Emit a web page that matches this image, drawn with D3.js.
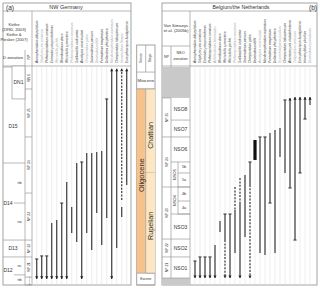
<!DOCTYPE html>
<html lang="en">
<head>
<meta charset="UTF-8">
<title>Dinocyst ranges</title>
<script src="https://cdn.jsdelivr.net/npm/d3@7"></script>
<style>
    body { margin: 0; background: #fff; }
    svg { display: block; font-family: "Liberation Sans", Arial, sans-serif; }
</style>
</head>
<body>
<svg id="chart" width="320" height="289"></svg>
<script>
// ages are in Ma

// (a) NW Germany
const leftTaxa = [
    "Areosphaeridium diktyoplokum", "Glaphyrocysta semitecta", "Phthanoperidinium comatum",
    "Enneadocysta pectiniformis", "Wetzeliella gochtii", "Rhombodinium draco",
    "Wetzeliella symmetrica", "Phthanoperidinium amoenum", "Svalbardella cooksoniae",
    "Areoligera semicirculata", "Chiropteridium galea", "Saturnodinium pansum",
    "Distatodinium biffii", "Pentadinium imaginatum", "Deflandrea phosphoritica",
    "Membranophoridium aspinatum", "Chiropteridium lobospinosum", "Homotryblium floripes",
    "Ectosphaeropsis burdigalensis"
]
const leftShared = [1, 0, 1, 1, 0, 1, 1, 0, 1, 1, 0, 1, 0, 1, 1, 0, 1, 0, 1]
// [column, top, base, occurrence, top end, base end]
const leftRanges = [
    [0, 33.06, 34.24, 'common', 'LO', 'down'],
    [1, 32.88, 34.24, 'common', 'LO', 'down'],
    [2, 32.88, 34.24, 'common', 'LO', 'down'],
    [3, 30.93, 34.24, 'common', '', 'down'],
    [4, 30.75, 34.24, 'common', '', 'down'],
    [5, 29.75, 34.24, 'common', 'LO', 'down'],
    [6, 28.50, 34.24, 'common', '', 'down'],
    [7, 29.98, 31.52, 'common', '', ''],
    [8, 27.38, 32.06, 'common', '', ''],
    [9, 27.32, 34.24, 'common', 'LO', 'down'],
    [10, 26.79, 31.52, 'common', '', ''],
    [11, 26.79, 32.53, 'common', '', ''],
    [12, 26.73, 30.34, 'common', '', ''],
    [13, 26.67, 32.23, 'common', '', ''],
    [14, 23.59, 30.63, 'common', 'LO', ''],
    [15, 21.8, 34.24, 'common', 'up', 'down'],
    [16, 21.8, 32.41, 'common', 'up', ''],
    [17, 21.8, 29.57, 'sporadic', 'up', ''],
    [17, 29.98, 30.58, 'common', '', ''],
    [18, 21.8, 28.68, 'common', 'up', '']
]
// [name, top, base]
const leftDZones = [['D15', 21.7, 27.38], ['D14', 27.38, 31.94], ['D13', 31.94, 32.94], ['D12', 32.94, 34.6]]
const leftDSub = [['nb', 27.38, 29.75], ['na', 29.75, 31.94], ['nc', 32.94, 34.0], ['nb', 34.0, 34.6]]
const leftNP = [['NN 1', 21.7, 23.0], ['NP 25', 23.0, 25.84], ['NP 24', 25.84, 29.16],
    ['NP 23', 29.16, 31.94], ['NP 22', 31.94, 32.94], ['NP 21', 32.94, 34.13], ['NP 19-20', 34.13, 34.6]]

// chronostratigraphy
const series = [['Miocene', 22.0, 23.0], ['Oligocene', 23.0, 33.9], ['Eocene', 33.9, 34.6]]
const stages = [['Chattian', 23.0, 27.95], ['Rupelian', 27.95, 33.9]]

// (b) Belgium/the Netherlands
const rightTaxa = [
    "Areosphaeridium diktyoplokum", "Glaphyrocysta semitecta", "Enneadocysta pectiniformis",
    "Phthanoperidinium comatum", "Achilleodinium biformoides", "Rhombodinium draco",
    "Wetzeliella symmetrica", "Wetzeliella gochtii", "Phthanoperidinium amoenum",
    "Svalbardella cooksoniae", "Saturnodinium pansum", "Chiropteridium galea",
    "Distatodinium biffii", "Areoligera semicirculata", "Membranophoridium aspinatum",
    "Pentadinium imaginatum", "Deflandrea phosphoritica", "Hystrichokolpoma pusillum",
    "Chiropteridium lobospinosum", "Artemisiocysta cladodichotoma", "Caligodinium amiculum",
    "Ectosphaeropsis burdigalensis", "Homotryblium plectilum", "Distatodinium paradoxum"
]
const rightShared = [1, 1, 1, 1, 0, 1, 1, 1, 0, 1, 1, 1, 1, 0, 1, 1, 1, 0, 1, 1, 0, 1, 1, 0]
const rightRanges = [
    [0, 33.18, 34.19, 'common', 'LO', 'down'],
    [1, 32.94, 34.19, 'common', 'LO', 'down'],
    [2, 32.94, 34.19, 'common', 'LO', 'down'],
    [3, 32.94, 34.19, 'common', 'LO', 'down'],
    [4, 32.23, 34.19, 'common', '', 'down'],
    [5, 30.81, 31.46, 'common', '', ''],
    [6, 30.40, 31.94, 'common', 'LO', ''],
    [6, 31.94, 34.19, 'sporadic', '', 'down'],
    [7, 30.40, 34.19, 'common', 'LO', 'down'],
    [8, 28.80, 30.16, 'sporadic', '', ''],
    [8, 30.16, 32.71, 'common', '', ''],
    [9, 28.27, 29.75, 'sporadic', '', ''],
    [9, 29.75, 34.19, 'common', '', 'down'],
    [10, 28.09, 31.76, 'common', '', ''],
    [11, 27.32, 28.68, 'common', 'LO', ''],
    [11, 28.68, 34.19, 'sporadic', '', 'down'],
    [12, 26.02, 27.20, 'acme', '', ''],
    [13, 25.84, 32.71, 'common', 'LO', ''],
    [14, 25.84, 32.82, 'common', 'LO', ''],
    [15, 25.61, 29.75, 'common', '', 'FO'],
    [16, 25.43, 32.71, 'common', '', ''],
    [17, 25.31, 27.03, 'common', '', ''],
    [18, 23.65, 27.97, 'common', 'LO', ''],
    [19, 23.53, 28.86, 'common', 'up', 'FO'],
    [20, 23.48, 31.94, 'common', 'up', 'FO'],
    [21, 23.48, 27.97, 'common', 'up', 'FO'],
    [22, 23.48, 24.78, 'common', 'up', 'FO'],
    [23, 23.48, 23.95, 'common', 'up', '']
]
const rightNSO = [['NSO8', 23.53, 24.84], ['NSO7', 24.84, 25.84], ['NSO6', 25.84, 27.32],
    ['NSO5', 27.32, 28.80], ['NSO4', 28.80, 30.40], ['NSO3', 30.40, 31.88],
    ['NSO2', 31.88, 32.94], ['NSO1', 32.94, 34.19]]
const rightNSOSub = [['5b', 27.32, 27.97], ['5a', 27.97, 28.80], ['4b', 28.80, 29.63], ['4a', 29.63, 30.40]]
const rightNP = [['NP 25', 23.53, 25.84], ['NP 24', 25.84, 28.80], ['NP 23', 28.80, 31.88],
    ['NP 22', 31.88, 32.94], ['NP 21', 32.94, 34.19]]
const rightGaps = [[21.7, 23.53], [34.19, 34.6]]

let svg = d3.select('#chart')
let ink = '#333'
let frame = '#999'

let y = d3.scaleLinear().domain([21.7, 34.6]).range([67, 285])
let xl = d3.scaleBand().domain(leftTaxa).range([34.2, 129.2])
let xr = d3.scaleBand().domain(rightTaxa).range([192.5, 312.5])

function hline(x1, x2, yy, c) {
    svg.append('line').attr('x1', x1).attr('x2', x2).attr('y1', yy).attr('y2', yy)
       .attr('stroke', c || frame).attr('stroke-width', 0.7)
}
function vline(xx, y1, y2, c) {
    svg.append('line').attr('x1', xx).attr('x2', xx).attr('y1', y1).attr('y2', y2)
       .attr('stroke', c || frame).attr('stroke-width', 0.7)
}
function label(t, xx, yy, size, rot, col) {
    let el = svg.append('text').text(t)
       .attr('font-size', size).attr('fill', col || ink)
       .attr('text-anchor', 'middle').attr('dominant-baseline', 'central')
    if (rot) el.attr('transform', `translate(${xx},${yy}) rotate(-90)`)
    else el.attr('x', xx).attr('y', yy)
    return el
}

//panel frames
svg.append('rect').attr('x', 3).attr('y', 3).attr('width', 128).attr('height', 282)
   .attr('fill', 'none').attr('stroke', frame).attr('stroke-width', 0.9)
svg.append('rect').attr('x', 162).attr('y', 3).attr('width', 155).attr('height', 282)
   .attr('fill', 'none').attr('stroke', frame).attr('stroke-width', 0.9)
hline(3, 131, 11); hline(162, 317, 11)
hline(3, 131, 66); hline(162, 317, 66)
vline(32, 11, 285); vline(190, 11, 285)
vline(25, 50, 285); vline(171, 46, 285)
hline(162, 190, 46)

label('(a)', 10, 7, 6.5)
label('NW Germany', 66, 7, 5.5)
label('Belgium/the Netherlands', 241, 7, 5.2)
label('(b)', 313, 7, 6.5)

// left header
;['Köthe', '(1990, 2003)', 'Köthe &', 'Piesker (2007)'].forEach((t, i) => label(t, 14, 24 + i * 5.2, 4.2))
label('D zonation', 13, 57, 4.2)
label('NP', 28.5, 57, 3.6, true)
// right header
label('Van Simaeys', 176, 25, 4.2)
label('et al. (2005b)', 176, 30, 4.2)
label('NP', 166.5, 57, 3.6)
label('NSO', 180.5, 53, 3.8)
label('zonation', 180.5, 59, 3.8)

//gridlines and species names
function species(x, taxa, shared) {
    let bw = x.bandwidth()
    svg.append('g').selectAll('line').data(taxa).join('line')
       .attr('x1', d => x(d) + bw / 2).attr('x2', d => x(d) + bw / 2)
       .attr('y1', 66).attr('y2', 285)
       .attr('stroke', '#e2e2e2').attr('stroke-width', 0.6)
    svg.append('g').selectAll('text').data(taxa).join('text')
       .attr('x', 0).attr('y', 0)
       .attr('transform', d => `translate(${x(d) + bw / 2 + 1},63) rotate(-90)`)
       .attr('font-size', 3.1)
       .attr('font-style', 'italic')
       .attr('fill', (d, i) => shared[i] ? '#444' : '#aaa')
       .text(d => d)
}
species(xl, leftTaxa, leftShared)
species(xr, rightTaxa, rightShared)

// left zonation
leftDZones.forEach(z => hline(3, 25, y(z[1])))
label('D15', 13, y(25.2), 5)
label('D14', 8, y(29.75), 5)
hline(14, 25, y(29.75))
label('D13', 13, y(32.44), 5)
label('D12', 8, y(33.7), 5)
hline(14, 25, y(34.0))
leftDSub.forEach(z => label(z[0], 19.5, y((z[1] + z[2]) / 2), 3.8))
// DN1 box sits over the top of D15
svg.append('rect').attr('x', 12).attr('y', 66).attr('width', 13).attr('height', y(23.59) - 66)
   .attr('fill', '#fff').attr('stroke', frame).attr('stroke-width', 0.7)
label('DN1', 18.5, y(22.6), 5)
leftNP.forEach(z => {
    hline(25, 32, y(z[2]))
    label(z[0], 28.5, y((z[1] + z[2]) / 2), z[0].length > 5 ? 2.2 : 3.4, true)
})

// right zonation
rightGaps.forEach(g => {
    svg.append('rect').attr('x', 162).attr('y', y(g[0])).attr('width', 28).attr('height', y(g[1]) - y(g[0]))
       .attr('fill', '#c9c9c9')
})
rightNSO.forEach(z => {
    hline(171, 190, y(z[2]))
    let mid = y((z[1] + z[2]) / 2)
    if (z[0] == 'NSO5' || z[0] == 'NSO4') label(z[0], 174.5, mid, 4, true)
    else label(z[0], 180.5, mid, 5)
})
vline(178, y(27.32), y(30.40))
rightNSOSub.forEach(z => {
    hline(178, 190, y(z[2]))
    label(z[0], 184, y((z[1] + z[2]) / 2), 3.8)
})
rightNP.forEach(z => {
    hline(162, 171, y(z[2]))
    label(z[0], 166.5, y((z[1] + z[2]) / 2), 3.4, true)
})
hline(162, 171, y(23.53))

// middle column: series and stages
let sx = 136.7, sw = 9, tx = 145.7, tw = 9.3
svg.append('rect').attr('x', sx).attr('y', 45).attr('width', sw + tw).attr('height', 240)
   .attr('fill', '#fff').attr('stroke', frame).attr('stroke-width', 0.9)
hline(sx, tx + tw, y(22.0))
label('Series', sx + sw / 2, 58, 3.3, true)
label('Stage', tx + tw / 2, 58, 3.3, true)
vline(tx, 45, y(22.0))
series.forEach(s => {
    if (s[0] == 'Oligocene') {
        svg.append('rect').attr('x', sx).attr('y', y(s[1])).attr('width', sw).attr('height', y(s[2]) - y(s[1]))
           .attr('fill', '#f8c28d')
    }
    hline(sx, tx + tw, y(s[2]))
})
stages.forEach(s => {
    svg.append('rect').attr('x', tx).attr('y', y(s[1])).attr('width', tw).attr('height', y(s[2]) - y(s[1]))
       .attr('fill', '#fde6c1')
    hline(tx, tx + tw, y(s[2]))
})
vline(tx, y(23.0), y(33.9))
hline(sx, tx + tw, y(23.0))
label('Miocene', sx + (sw + tw) / 2, y(22.5), 4.4)
label('Oligocene', sx + sw / 2, y(28.1), 7.5, true)
label('Chattian', tx + tw / 2, y(25.75), 7.2, true)
label('Rupelian', tx + tw / 2, y(31.1), 7.2, true)
label('Eocene', sx + (sw + tw) / 2, y(34.25), 3.3)

// range bars
function ranges(x, taxa, data) {
    let bw = x.bandwidth()
    let g = svg.append('g')
    data.forEach(r => {
        let cx = x(taxa[r[0]]) + bw / 2
        let y0 = y(r[1]), y1 = y(r[2])
        if (r[3] == 'acme') {
            g.append('rect').attr('x', cx - 1.6).attr('y', y0).attr('width', 3.2).attr('height', y1 - y0)
             .attr('fill', '#111')
            return
        }
        g.append('line').attr('x1', cx).attr('x2', cx).attr('y1', y0).attr('y2', y1)
         .attr('stroke', '#4a4a4a').attr('stroke-width', 1.3)
         .attr('stroke-dasharray', r[3] == 'sporadic' ? '2,1.4' : null)
        if (r[4] == 'LO') g.append('line').attr('x1', cx - 1.6).attr('x2', cx + 1.6).attr('y1', y0).attr('y2', y0)
                           .attr('stroke', '#222').attr('stroke-width', 0.9)
        if (r[5] == 'FO') g.append('line').attr('x1', cx - 1.6).attr('x2', cx + 1.6).attr('y1', y1).attr('y2', y1)
                           .attr('stroke', '#222').attr('stroke-width', 0.9)
        if (r[4] == 'up') g.append('path').attr('d', `M${cx - 1.6},${y0 + 2.6}L${cx},${y0}L${cx + 1.6},${y0 + 2.6}Z`)
                           .attr('fill', '#222')
        if (r[5] == 'down') g.append('path').attr('d', `M${cx - 1.6},${y1 - 2.6}L${cx},${y1}L${cx + 1.6},${y1 - 2.6}Z`)
                           .attr('fill', '#222')
    })
}
ranges(xl, leftTaxa, leftRanges)
ranges(xr, rightTaxa, rightRanges)
</script>
</body>
</html>
